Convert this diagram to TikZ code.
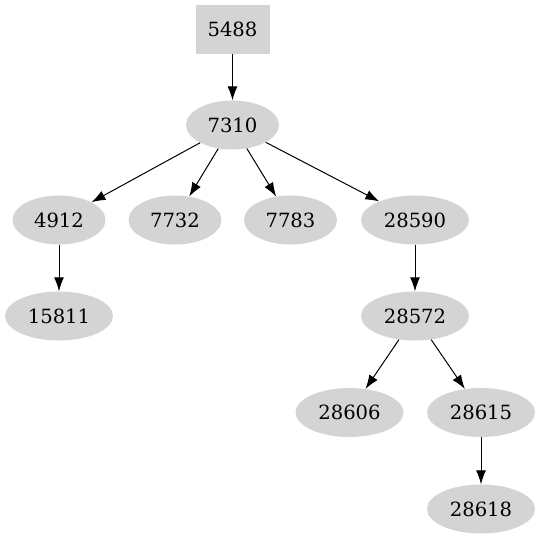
\documentclass[tikz,border=0pt]{standalone}
\usepackage{fontspec}
\setmainfont{DejaVu Serif}
\usetikzlibrary{shapes.geometric,arrows.meta}
\tikzset{
	treenode/.style={ellipse, fill=black!17, inner sep=0pt, minimum height=49pt,
		font=\fontsize{19.6}{23}\selectfont},
	rootbox/.style={rectangle, fill=black!17, inner sep=0pt, minimum width=74pt,
		minimum height=49pt, font=\fontsize{19.6}{23}\selectfont},
	edge/.style={-{Latex[length=14pt,width=10pt]}, line width=1pt}
}
\begin{document}
\begin{tikzpicture}[x=1pt,y=-1pt]
	\useasboundingbox (0,0) rectangle (541,539);
	% root and first level
	\node[rootbox] (n5488) at (232.5,29) {5488};
	\node[treenode,minimum width=93pt] (n7310) at (232.5,125) {7310};
	\node[treenode,minimum width=93pt] (n4912) at (59,220) {4912};
	\node[treenode,minimum width=93pt] (n7732) at (175,220) {7732};
	\node[treenode,minimum width=93pt] (n7783) at (290.5,220) {7783};
	\node[treenode,minimum width=108pt] (n28590) at (415,220) {28590};
	% lower levels
	\node[treenode,minimum width=108pt] (n15811) at (59,316) {15811};
	\node[treenode,minimum width=108pt] (n28572) at (415,316) {28572};
	\node[treenode,minimum width=108pt] (n28606) at (349.5,412.5) {28606};
	\node[treenode,minimum width=108pt] (n28615) at (481,412.5) {28615};
	\node[treenode,minimum width=108pt] (n28618) at (481,509) {28618};
	\foreach \a/\b in {5488/7310,7310/4912,7310/7732,7310/7783,7310/28590,
		4912/15811,28590/28572,28572/28606,28572/28615,28615/28618}
	{\draw[edge] (n\a) -- (n\b); }
\end{tikzpicture}
\end{document}
